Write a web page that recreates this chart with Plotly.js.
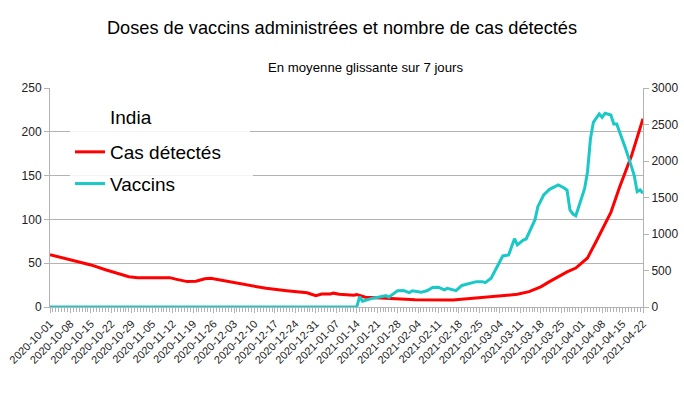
<!DOCTYPE html>
<html>
<head>
<meta charset="utf-8">
<script src="https://cdn.plot.ly/plotly-3.0.1.min.js"></script>
<style>html,body{margin:0;padding:0;background:#fff}#chart{width:684px;height:395px}</style>
</head>
<body>
<div id="chart"></div>
<script>
// Cas détectés (milliers), moyenne glissante 7 jours — axe gauche
const casDates = ['2020-10-01','2020-10-08','2020-10-11','2020-10-15','2020-10-20','2020-10-25','2020-10-28','2020-10-31',
  '2020-11-11','2020-11-13','2020-11-17','2020-11-20','2020-11-23','2020-11-25','2020-11-28',
  '2020-12-05','2020-12-14','2020-12-21','2020-12-28','2020-12-31',
  '2021-01-02','2021-01-05','2021-01-06','2021-01-08','2021-01-13','2021-01-14','2021-01-17','2021-01-24',
  '2021-02-03','2021-02-16','2021-02-23','2021-02-28',
  '2021-03-06','2021-03-10','2021-03-14','2021-03-18','2021-03-21','2021-03-27','2021-03-30',
  '2021-04-03','2021-04-06','2021-04-11','2021-04-14','2021-04-18','2021-04-22'];
const casValues = [59.7,53.5,51.5,48,42.5,37.5,34.6,33.5,
  33.5,31.8,29,29.5,32.3,32.7,31,
  26.3,21.3,18.6,16.3,13,
  14.8,14.8,15.8,14.5,13.5,14.3,11.2,10,
  8.2,8,9.9,11,
  12.8,14.5,17.5,23,29,40,44.5,
  56,75,108,137,172,215];

// Vaccins (milliers de doses), moyenne glissante 7 jours — axe droit
const vacDates = ['2020-10-01','2021-01-14','2021-01-15','2021-01-16','2021-01-19','2021-01-21','2021-01-23','2021-01-24','2021-01-25',
  '2021-01-28','2021-01-30','2021-02-01','2021-02-02','2021-02-05','2021-02-07','2021-02-09','2021-02-11','2021-02-13','2021-02-14',
  '2021-02-17','2021-02-19','2021-02-24','2021-02-26','2021-02-27',
  '2021-03-01','2021-03-03','2021-03-05','2021-03-07','2021-03-09','2021-03-10','2021-03-12','2021-03-13','2021-03-14',
  '2021-03-16','2021-03-17','2021-03-19','2021-03-21','2021-03-24','2021-03-26','2021-03-27','2021-03-28','2021-03-29','2021-03-30',
  '2021-04-01','2021-04-02','2021-04-03','2021-04-04','2021-04-05','2021-04-07','2021-04-08','2021-04-09','2021-04-11',
  '2021-04-12','2021-04-13','2021-04-15','2021-04-16','2021-04-18','2021-04-19','2021-04-20','2021-04-21','2021-04-22'];
const vacValues = [0,0,140,80,115,128,150,155,133,
  224,226,196,222,201,222,268,270,235,255,
  224,295,347,347,333,
  393,540,699,712,935,850,918,932,1020,
  1192,1374,1534,1612,1671,1630,1600,1329,1274,1250,
  1511,1620,1850,2300,2530,2644,2599,2654,2630,
  2507,2507,2300,2174,1930,1800,1580,1603,1557];

const titleText = 'Doses de vaccins administrées et nombre de cas détectés';
const subtitleText = 'En moyenne glissante sur 7 jours';
const legendTitle = 'India';
const seriesNames = ['Cas détectés','Vaccins'];

const FONT = 'Liberation Sans, Arial, sans-serif';
const NB = '\u00a0';
const LEG_BG = 'rgba(255,255,255,0.85)';
const px2x = p => (p - 50) / 593;
const px2y = p => (307 - p) / 219;

const traces = [
  {x: casDates, y: casValues, name: seriesNames[0] + NB.repeat(5), type: 'scatter', mode: 'lines',
   line: {color: '#ff0000', width: 3}, yaxis: 'y', legendgroup: 'a'},
  {x: vacDates, y: vacValues, name: seriesNames[1], type: 'scatter', mode: 'lines',
   line: {color: '#1ac8c8', width: 3}, yaxis: 'y2', legendgroup: 'b'}
];

const layout = {
  width: 684, height: 395,
  margin: {l: 50, r: 41, t: 88, b: 88},
  paper_bgcolor: '#ffffff', plot_bgcolor: '#ffffff',
  font: {family: FONT, color: '#222'},
  title: {text: titleText, font: {size: 18.2, color: '#000'}, x: 0.5, xanchor: 'center',
          y: 1 - 28/395, yref: 'container', yanchor: 'middle'},
  showlegend: true,
  legend: {x: px2x(70), y: px2y(133), xanchor: 'left', yanchor: 'top', bgcolor: LEG_BG,
           font: {size: 19, color: '#000'}, tracegroupgap: 4, itemwidth: 30},
  xaxis: {type: 'date', range: ['2020-10-01', '2021-04-22'], tick0: '2020-10-01', dtick: 7*86400000,
          tickformat: '%Y-%m-%d', tickangle: -45, tickfont: {size: 11, color: '#222'},
          showgrid: false, showline: true, linecolor: '#b3b3b3', linewidth: 1,
          ticks: 'outside', ticklen: 5, tickcolor: '#b3b3b3',
          minor: {dtick: 86400000, ticks: 'outside', ticklen: 4, tickcolor: '#b3b3b3', showgrid: false},
          zeroline: false, fixedrange: true},
  yaxis: {range: [0, 250], dtick: 50, showgrid: true, gridcolor: '#b3b3b3', gridwidth: 1,
          showline: true, linecolor: '#b3b3b3', ticks: 'outside', ticklen: 5, tickcolor: '#b3b3b3',
          tickfont: {size: 12, color: '#222'}, zeroline: false},
  yaxis2: {range: [0, 3000], dtick: 500, overlaying: 'y', side: 'right', showgrid: false,
           showline: true, linecolor: '#b3b3b3', ticks: 'outside', ticklen: 5, tickcolor: '#b3b3b3',
           tickfont: {size: 12, color: '#222'}, zeroline: false},
  annotations: [
    {text: subtitleText, xref: 'paper', yref: 'paper', x: px2x(365), y: px2y(67), xanchor: 'center', yanchor: 'middle',
     showarrow: false, font: {size: 13.2, color: '#000'}},
    {text: NB, xref: 'paper', yref: 'paper', x: px2x(70), y: px2y(117.5), xanchor: 'left', yanchor: 'middle',
     width: 180, height: 29, bgcolor: LEG_BG, borderwidth: 0, borderpad: 0, showarrow: false, font: {size: 19}},
    {text: legendTitle, xref: 'paper', yref: 'paper', x: px2x(108), y: px2y(117), xanchor: 'left', yanchor: 'middle',
     showarrow: false, font: {size: 19, color: '#000'}}
  ]
};

Plotly.newPlot('chart', traces, layout, {staticPlot: true, displayModeBar: false});
</script>
</body>
</html>
